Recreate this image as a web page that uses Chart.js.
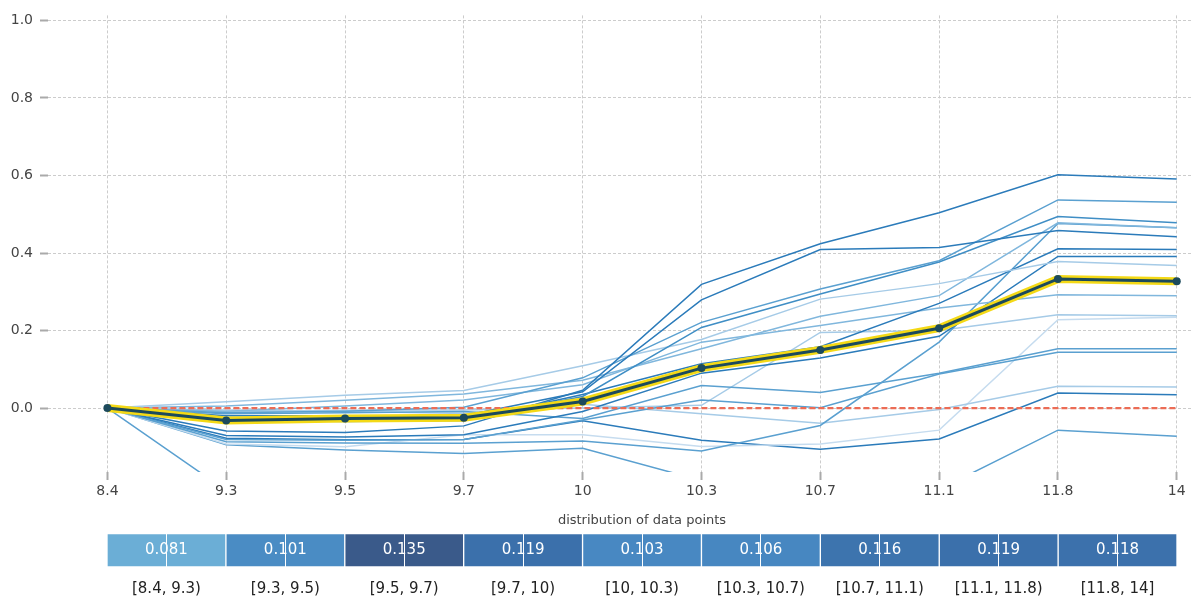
<!DOCTYPE html>
<html>
<head>
<meta charset="utf-8">
<script src="https://cdn.jsdelivr.net/npm/chart.js@4/dist/chart.umd.min.js"></script>
<style>
  body { margin: 0; background: #fff; font-family: "DejaVu Sans", sans-serif; }
  #top { position: absolute; left: 0; top: 0; width: 1191px; height: 500px; }
  #bottom { position: absolute; left: 0; top: 500px; width: 1191px; height: 96px; }
</style>
</head>
<body>
<div id="top"><canvas id="iceChart"></canvas></div>
<div id="bottom"><canvas id="distChart"></canvas></div>
<script>
// x categories and y ticks
const xLabels = ['8.4', '9.3', '9.5', '9.7', '10', '10.3', '10.7', '11.1', '11.8', '14'];
const yTicks = [0, 0.2, 0.4, 0.6, 0.8, 1.0];

// individual curves (one value per x category)
const iceA = [0, -0.059, -0.063, -0.046, 0.046, 0.319, 0.424, 0.504, 0.602, 0.591];
const iceB = [0, -0.020, -0.020, -0.020, 0.042, 0.279, 0.409, 0.414, 0.458, 0.442];
const iceC = [0, -0.012, -0.008, 0.002, 0.078, 0.221, 0.307, 0.380, 0.537, 0.531];
const iceD = [0, -0.025, -0.030, -0.030, 0.030, 0.208, 0.294, 0.377, 0.494, 0.478];
const iceE = [0, 0.016, 0.033, 0.045, 0.109, 0.177, 0.281, 0.321, 0.378, 0.368];
const iceF = [0, 0.005, 0.020, 0.036, 0.072, 0.153, 0.237, 0.290, 0.478, 0.465];
const iceG = [0, -0.030, -0.035, -0.032, 0.035, 0.114, 0.158, 0.270, 0.411, 0.409];
const iceH = [0, -0.008, 0.005, 0.021, 0.060, 0.170, 0.213, 0.258, 0.292, 0.290];
const iceI = [0, -0.071, -0.075, -0.069, -0.009, 0.090, 0.129, 0.185, 0.391, 0.391];
const iceJ = [0, -0.087, -0.090, -0.091, -0.085, -0.111, -0.045, 0.170, 0.476, 0.465];
const iceK = [0, -0.015, -0.012, -0.009, -0.027, 0.058, 0.040, 0.090, 0.153, 0.153];
const iceL = [0, -0.081, -0.083, -0.081, -0.031, 0.021, 0.001, 0.088, 0.144, 0.144];
const iceM = [0, -0.010, -0.006, -0.005, 0.000, 0.007, 0.195, 0.200, 0.241, 0.238];
const iceN = [0, -0.005, -0.008, -0.014, 0.010, -0.015, -0.039, -0.004, 0.056, 0.054];
const iceO = [0, -0.093, -0.100, -0.069, -0.069, -0.099, -0.093, -0.057, 0.228, 0.234];
const iceP = [0, -0.078, -0.082, -0.081, -0.033, -0.083, -0.106, -0.080, 0.039, 0.034];
const iceQ = [0, -0.095, -0.108, -0.117, -0.104, -0.187, -0.250, -0.210, -0.057, -0.073];
const iceR = [0, -0.213, -0.250, -0.270, -0.290, -0.300, -0.320, -0.330, -0.300, -0.300];

// average curve
const meanCurve = [0, -0.032, -0.027, -0.025, 0.017, 0.103, 0.150, 0.206, 0.333, 0.327];

// distribution of data points
const binLabels = ['[8.4, 9.3)', '[9.3, 9.5)', '[9.5, 9.7)', '[9.7, 10)', '[10, 10.3)',
  '[10.3, 10.7)', '[10.7, 11.1)', '[11.1, 11.8)', '[11.8, 14]'];
const binShares = [0.081, 0.101, 0.135, 0.119, 0.103, 0.106, 0.116, 0.119, 0.118];

// colours
const dark = '#2b7bba', medDark = '#3f8ec5', medium = '#5aa0d0', medLight = '#80b7dd',
  light = '#a6cbe7', veryLight = '#c6dcef';
const iceSeries = [
  [iceA, dark], [iceB, dark], [iceC, medium], [iceD, medDark], [iceE, light],
  [iceF, medLight], [iceG, dark], [iceH, medLight], [iceI, dark], [iceJ, medium],
  [iceK, medium], [iceL, medium], [iceM, light], [iceN, light], [iceO, veryLight],
  [iceP, dark], [iceQ, medium], [iceR, medium]
];
const binColors = ['#6baed6', '#4a8cc4', '#3a5a8a', '#3b70ab', '#4888c2',
  '#4787c1', '#3d74ae', '#3b70ab', '#3c71ac'];

const toPoints = arr => arr.map((v, i) => ({ x: i, y: v }));

const datasets = [];
datasets.push({
  data: toPoints(meanCurve), borderColor: '#1c4a5c', borderWidth: 3,
  pointRadius: 4, pointBackgroundColor: '#1c4a5c', pointBorderWidth: 0, order: 0
});
datasets.push({
  data: toPoints(meanCurve), borderColor: '#f4d916', borderWidth: 8,
  pointRadius: 0, order: 1
});
datasets.push({
  data: toPoints(meanCurve.map(() => 0)), borderColor: '#ec6c55', borderWidth: 2.2,
  borderDash: [6, 3], pointRadius: 0, order: 2
});
iceSeries.forEach(([vals, col]) => {
  datasets.push({
    data: toPoints(vals), borderColor: col, borderWidth: 1.5,
    pointRadius: 0, order: 3
  });
});

const gridStyle = {
  color: '#cccccc', lineWidth: 1,
  tickLength: 8, tickColor: '#aaaaaa', tickWidth: 2, tickBorderDash: []
};

new Chart(document.getElementById('iceChart'), {
  type: 'line',
  data: { datasets: datasets },
  options: {
    responsive: true,
    maintainAspectRatio: false,
    animation: false,
    layout: { autoPadding: false, padding: { top: 14, right: 0, bottom: 0, left: 0 } },
    plugins: { legend: { display: false }, tooltip: { enabled: false } },
    scales: {
      x: {
        type: 'linear', min: -0.5, max: 9.12,
        border: { display: false, dash: [3, 2] },
        grid: gridStyle,
        afterBuildTicks: s => { s.ticks = xLabels.map((_, i) => ({ value: i })); },
        ticks: {
          padding: 3, color: '#444', font: { family: 'DejaVu Sans', size: 14 },
          callback: v => xLabels[v], maxRotation: 0, autoSkip: false
        },
        afterFit: s => { s.height = 28; s.paddingLeft = 0; s.paddingRight = 0; }
      },
      y: {
        min: -0.165, max: 1.013,
        border: { display: false, dash: [3, 2] },
        grid: gridStyle,
        afterBuildTicks: s => { s.ticks = yTicks.map(v => ({ value: v })); },
        ticks: {
          padding: 7, color: '#444', font: { family: 'DejaVu Sans', size: 14 },
          callback: v => Number(v).toFixed(1)
        },
        afterFit: s => { s.width = 48; }
      }
    }
  }
});

// white share labels inside the distribution cells
const shareLabels = {
  id: 'shareLabels',
  afterDatasetsDraw(chart) {
    const ctx = chart.ctx;
    const xs = chart.scales.x;
    const area = chart.chartArea;
    ctx.save();
    ctx.fillStyle = '#ffffff';
    ctx.font = '15px "DejaVu Sans"';
    ctx.textAlign = 'center';
    ctx.textBaseline = 'middle';
    binShares.forEach((v, i) => {
      ctx.fillText(v.toFixed(3), xs.getPixelForValue(i + 0.5), (area.top + area.bottom) / 2);
    });
    ctx.restore();
  }
};

new Chart(document.getElementById('distChart'), {
  type: 'bar',
  data: {
    labels: ['share'],
    datasets: binShares.map((v, i) => ({
      data: [[i, i + 1]],
      backgroundColor: binColors[i],
      borderColor: '#ffffff',
      borderWidth: 1,
      borderSkipped: false,
      grouped: false,
      barPercentage: 1,
      categoryPercentage: 1
    }))
  },
  options: {
    indexAxis: 'y',
    responsive: true,
    maintainAspectRatio: false,
    animation: false,
    layout: { padding: { top: 0, right: 14, bottom: 0, left: 107 } },
    plugins: {
      legend: { display: false },
      tooltip: { enabled: false },
      title: {
        display: true, text: 'distribution of data points', color: '#444',
        font: { family: 'DejaVu Sans', size: 13, weight: 'normal' },
        padding: { top: 13, bottom: 5 }
      }
    },
    scales: {
      x: {
        type: 'linear', min: 0, max: 9, z: 1,
        border: { display: false },
        grid: { color: '#ffffff', lineWidth: 1, drawTicks: false, z: 1 },
        afterBuildTicks: s => { s.ticks = binLabels.map((_, i) => ({ value: i + 0.5 })); },
        ticks: {
          padding: 13, color: '#222', font: { family: 'DejaVu Sans', size: 15 },
          callback: v => binLabels[Math.floor(v)], maxRotation: 0, autoSkip: false
        },
        afterFit: s => { s.height = 29; }
      },
      y: { display: false }
    }
  },
  plugins: [shareLabels]
});
</script>
</body>
</html>
